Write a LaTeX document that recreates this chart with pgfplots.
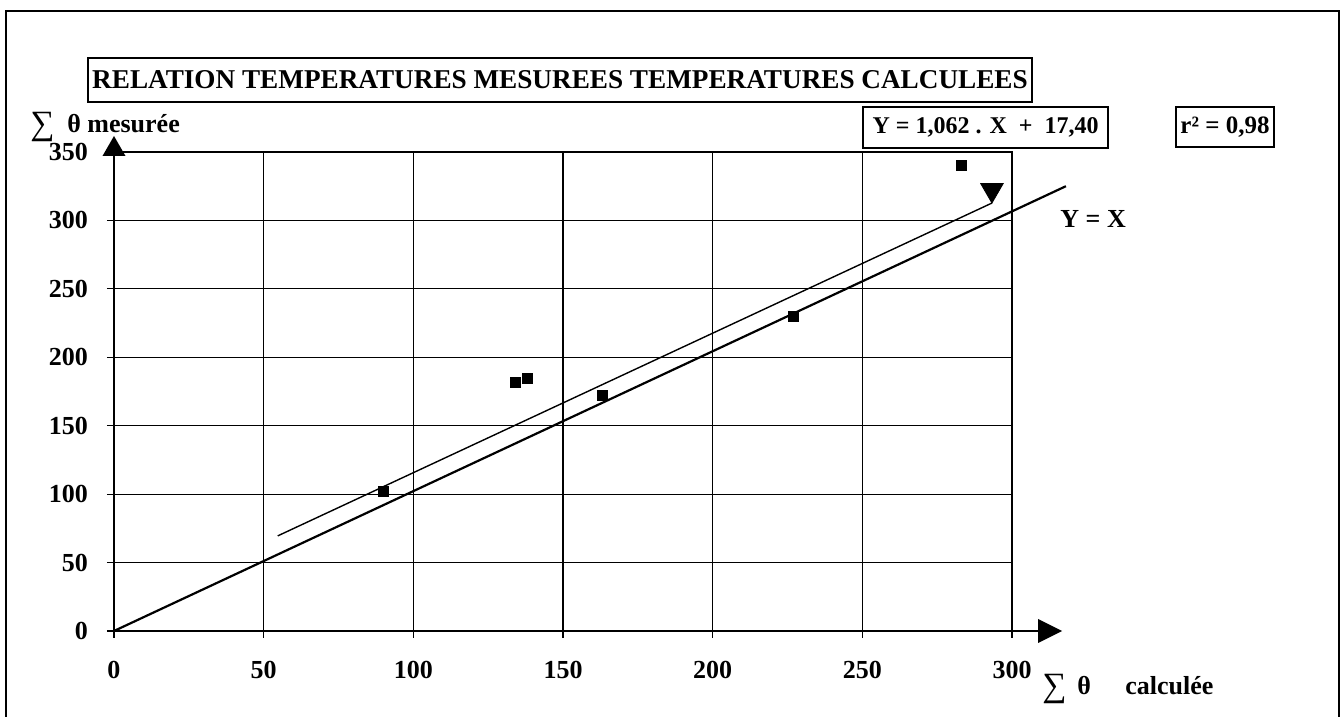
\documentclass[border=0pt]{standalone}
\usepackage{fontspec}
\setmainfont{Liberation Serif}
\usepackage{pgfplots}
\pgfplotsset{compat=1.18}

\newcommand{\lbl}{\bfseries\fontsize{13}{15}\selectfont}

\begin{document}
\begin{tikzpicture}
\useasboundingbox (-57pt,-43pt) rectangle (614.5pt,315.5pt);
\begin{axis}[
  at={(0,0)}, anchor=south west,
  width=449pt, height=239.5pt, scale only axis,
  xmin=0, xmax=300, ymin=0, ymax=350,
  xtick={0,50,...,300}, ytick={0,50,...,350},
  tick pos=left, tick align=outside, major tick length=3.5pt,
  grid=major, major grid style={black, line width=0.6pt},
  axis line style={black, line width=0.8pt},
  every tick/.style={black, line width=0.6pt},
  tick label style={font=\lbl},
  /pgf/number format/assume math mode=true,
  xticklabel style={yshift=-8pt},
  yticklabel style={xshift=-6pt},
  clip=false,
]
% droite Y = X
\addplot[black, line width=1.1pt] coordinates {(0,0) (318,325)};
% droite de regression
\addplot[black, line width=0.7pt] coordinates {(54.7,69.5) (293.3,312.7)};
\addplot[only marks, mark=triangle*, mark size=6.5pt,
  mark options={black, yshift=6.5pt, rotate=180}] coordinates {(293.3,312.7)};
% mesures
\addplot[only marks, mark=square*, mark size=2.5pt, black]
  coordinates {(90,102) (134,181.5) (138,184.5) (163,172) (227,230) (283,340)};
\end{axis}

% fleches des axes
\draw[line width=0.8pt] (449pt,0) -- (462pt,0);
\fill (462pt,6pt) -- (474pt,0) -- (462pt,-6pt) -- cycle;
\fill (-5.75pt,237.5pt) -- (0,247.5pt) -- (5.75pt,237.5pt) -- cycle;

% cadre
\draw[line width=0.8pt] (-54pt,-43pt) -- (-54pt,310pt) -- (612.5pt,310pt) -- (612.5pt,-43pt);

% textes
\node[draw, line width=0.8pt, minimum width=472pt, minimum height=22pt, inner sep=0pt,
  font=\bfseries\fontsize{13.6}{15}\selectfont]
  at (223pt,275.5pt) {RELATION TEMPERATURES MESUREES TEMPERATURES CALCULEES};
\node[draw, line width=0.8pt, minimum width=122.5pt, minimum height=20.5pt, inner sep=0pt,
  font=\bfseries\fontsize{12}{14}\selectfont]
  at (435.75pt,251.75pt) {Y = 1,062 . X \ + \ 17,40};
\node[draw, line width=0.8pt, minimum width=49pt, minimum height=20pt, inner sep=0pt,
  font=\bfseries\fontsize{12.5}{14}\selectfont]
  at (555.5pt,252pt) {r² = 0,98};
\node[anchor=base west, inner sep=0pt, font=\lbl] at (473pt,201.5pt) {Y = X};

\node[anchor=base west, inner sep=0pt, font=\fontsize{17}{19}\selectfont] at (-42pt,248pt) {∑};
\node[anchor=base west, inner sep=0pt, font=\lbl] at (-23.5pt,249pt) {θ};
\node[anchor=base west, inner sep=0pt, font=\lbl] at (-13.5pt,249pt) {mesurée};

\node[anchor=base west, inner sep=0pt, font=\fontsize{17}{19}\selectfont] at (464pt,-33pt) {∑};
\node[anchor=base west, inner sep=0pt, font=\lbl] at (481.5pt,-32pt) {θ};
\node[anchor=base west, inner sep=0pt, font=\lbl] at (505.5pt,-32pt) {calculée};
\end{tikzpicture}
\end{document}
